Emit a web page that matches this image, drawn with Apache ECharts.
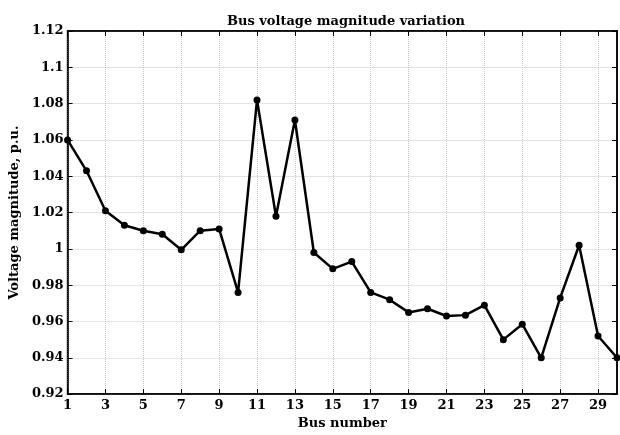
<!DOCTYPE html>
<html><head><meta charset="utf-8">
<script src="https://cdn.jsdelivr.net/npm/echarts@6/dist/echarts.min.js"></script>
<style>html,body{margin:0;padding:0;background:#fff}#c{width:620px;height:435px}</style>
</head><body><div id="c"></div>
<script>
const buses = ['1','2','3','4','5','6','7','8','9','10','11','12','13','14','15','16','17','18','19','20','21','22','23','24','25','26','27','28','29','30'];
const voltage = [1.060,1.043,1.021,1.013,1.010,1.008,0.9995,1.010,1.011,0.976,1.082,1.018,1.071,0.998,0.989,0.993,0.976,0.972,0.965,0.967,0.963,0.9635,0.969,0.950,0.9585,0.940,0.973,1.002,0.952,0.940];
const yTicks = {min:0.92, max:1.12, step:0.02};
const F = 'DejaVu Serif';
const chart = echarts.init(document.getElementById('c'));
const txt = {fontFamily:F, fontWeight:'bold', color:'#000', fontSize:13};
chart.setOption({
  animation:false,
  title:{text:'Bus voltage magnitude variation', left:341, top:10, textAlign:'center',
    textStyle:{fontFamily:F, fontWeight:'bold', fontSize:13, color:'#000'}},
  grid:{left:65, right:3, top:31, bottom:29, show:true, borderColor:'#000', borderWidth:1.5, backgroundColor:'transparent'},
  xAxis:[{type:'category', data:buses, boundaryGap:false,
    name:'Bus number', nameLocation:'middle', nameGap:19, nameTextStyle:Object.assign({}, txt, {fontSize:13}),
    axisLine:{lineStyle:{color:'#000', width:1.5}},
    axisTick:{inside:true, length:5, interval:1, lineStyle:{color:'#000'}},
    axisLabel:Object.assign({interval:1, margin:5}, txt),
    splitLine:{show:true, interval:1, lineStyle:{color:'#c8c8c8', type:'dotted', width:1}}},
   {type:'category', data:buses, boundaryGap:false, position:'top',
    axisLine:{lineStyle:{color:'#000', width:1.5}},
    axisTick:{inside:true, length:5, interval:1, lineStyle:{color:'#000'}},
    axisLabel:{show:false}, splitLine:{show:false}}],
  yAxis:[{type:'value', min:yTicks.min, max:yTicks.max, interval:yTicks.step,
    name:'Voltage magnitude, p.u.', nameLocation:'middle', nameGap:45, nameTextStyle:Object.assign({}, txt, {fontSize:13}),
    axisLine:{show:true, lineStyle:{color:'#000', width:1.5}},
    axisTick:{show:true, inside:true, length:5, lineStyle:{color:'#000'}},
    axisLabel:Object.assign({margin:4}, txt),
    splitLine:{show:true, lineStyle:{color:'#c8c8c8', type:'dotted', width:1}}},
   {type:'value', min:yTicks.min, max:yTicks.max, interval:yTicks.step, position:'right',
    axisLine:{show:true, lineStyle:{color:'#000', width:1.5}},
    axisTick:{show:true, inside:true, length:5, lineStyle:{color:'#000'}},
    axisLabel:{show:false}, splitLine:{show:false}}],
  series:[{type:'line', data:voltage, symbol:'circle', symbolSize:7,
    lineStyle:{color:'#000', width:2.5}, itemStyle:{color:'#000'}}]
});
</script></body></html>
